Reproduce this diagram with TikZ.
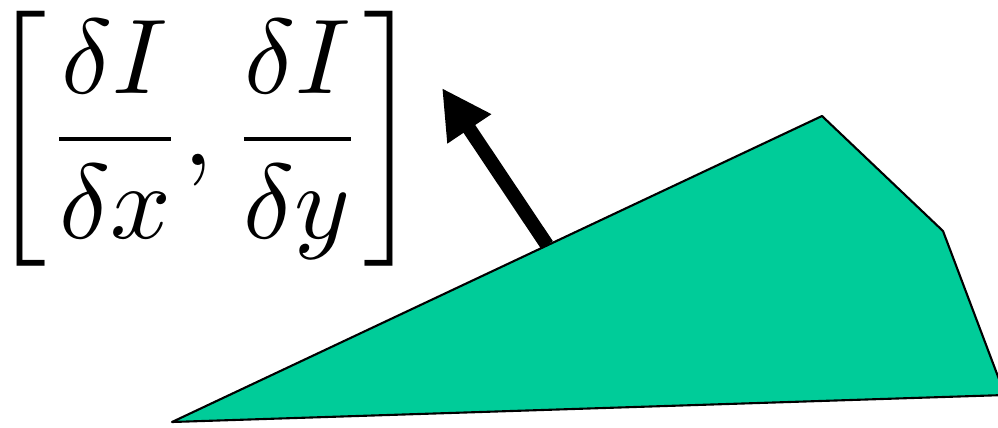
\documentclass[tikz,border=0pt]{standalone}
\usepackage{amsmath}
\usetikzlibrary{arrows.meta}
\definecolor{facegreen}{RGB}{0,204,153}
\begin{document}
\begin{tikzpicture}[x=0.02cm,y=-0.02cm]
  \useasboundingbox (0,0) rectangle (998,427);
  \clip (0,0) rectangle (998,427);
  \fill[facegreen] (172,422) -- (822,116) -- (943,231) -- (1005,395) -- cycle;
  \draw[line width=1.2pt,line join=round] (172,422) -- (822,116) -- (943,231) -- (1005,395) -- cycle;
  \coordinate (foot) at (547,245);
  \coordinate (tip) at (442,88);
  \draw[line width=8pt,-{Triangle[length=28pt,width=28pt]}] (foot) -- (tip);
  \node[scale=6.05] (grad) at (205,139) {$\left[\dfrac{\delta I}{\delta x},\dfrac{\delta I}{\delta y}\right]$};
\end{tikzpicture}
\end{document}
